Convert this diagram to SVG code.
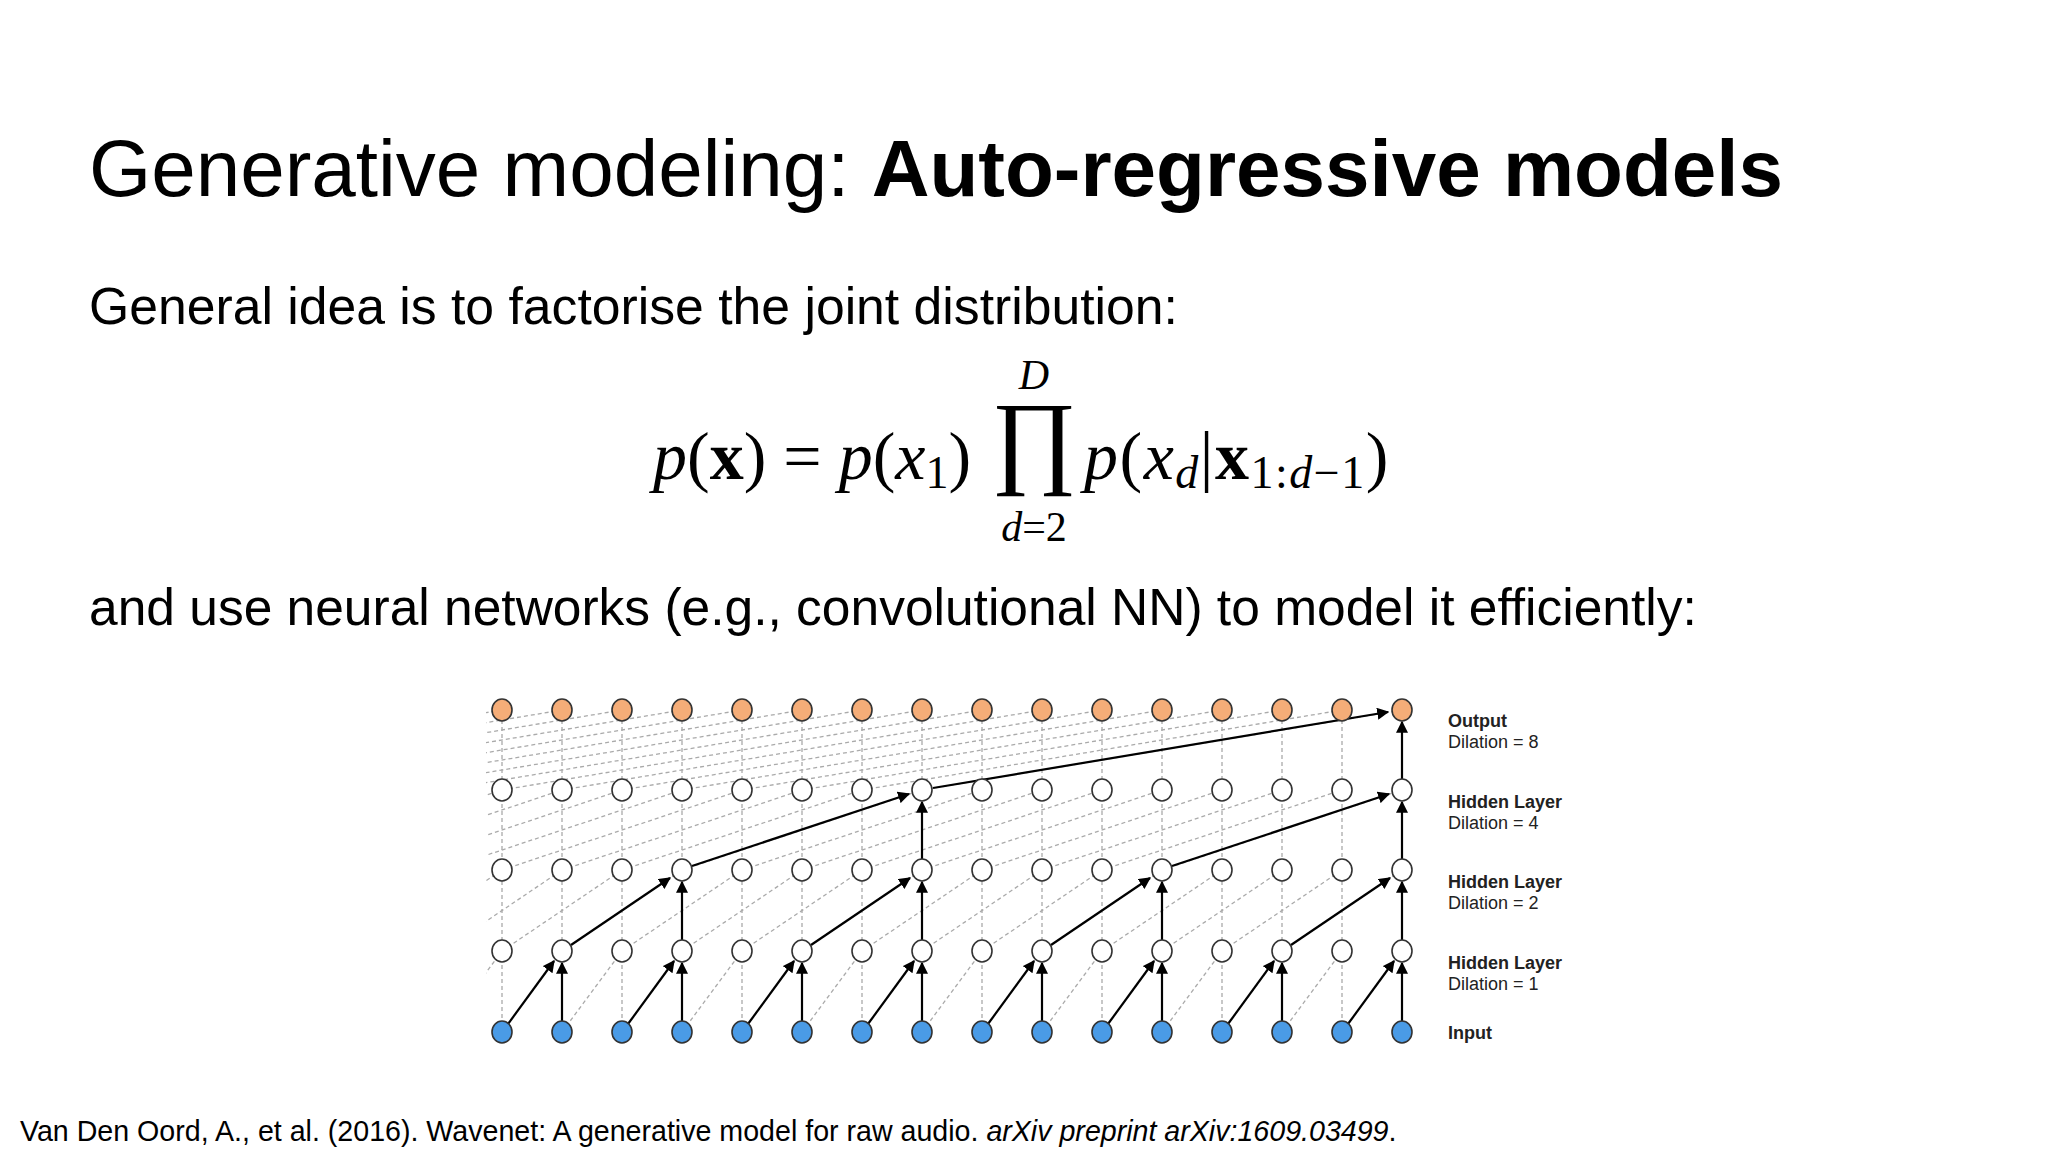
<svg xmlns="http://www.w3.org/2000/svg" width="2048" height="1152" viewBox="0 0 2048 1152">
<style>
.t{font-family:"Liberation Sans",Arial,sans-serif;fill:#000}
.m{font-family:"Liberation Serif","DejaVu Serif",serif;fill:#000}
.o{fill:#f5ad78;stroke:#333;stroke-width:1.6}
.h{fill:#fff;stroke:#333;stroke-width:1.6}
.i{fill:#4a9be6;stroke:#333;stroke-width:1.6}
.d{fill:none;stroke:#aaa;stroke-width:1.3;stroke-dasharray:4 3}
.a{fill:none;stroke:#000;stroke-width:2.2;marker-end:url(#ah)}
.lb{font-family:"Liberation Sans",Arial,sans-serif;font-size:18px;fill:#222}
</style>
<defs>
<marker id="ah" viewBox="0 0 10 10" refX="9" refY="5" markerWidth="12" markerHeight="12" markerUnits="userSpaceOnUse" orient="auto"><path d="M0,0 L10,5 L0,10 z" fill="#000"/></marker>
<clipPath id="cp"><rect x="486" y="700" width="936" height="345"/></clipPath>
</defs>
<rect width="2048" height="1152" fill="#fff"/>
<text class="t" x="89" y="196" font-size="80">Generative modeling: <tspan font-weight="bold">Auto-regressive models</tspan></text>
<text class="t" x="89" y="324" font-size="51.7">General idea is to factorise the joint distribution:</text>
<text class="t" x="89" y="625" font-size="51.5">and use neural networks (e.g., convolutional NN) to model it efficiently:</text>
<text class="t" x="20" y="1141" font-size="28.6">Van Den Oord, A., et al. (2016). Wavenet: A generative model for raw audio. <tspan font-style="italic">arXiv preprint arXiv:1609.03499</tspan>.</text>
<g id="equation">
<text class="m" x="653" y="479" font-size="68"><tspan font-style="italic">p</tspan>(<tspan font-weight="bold">x</tspan>) = <tspan font-style="italic">p</tspan>(<tspan font-style="italic">x</tspan><tspan font-size="46" dy="9">1</tspan><tspan dy="-9">)</tspan></text>
<text class="m" x="1034" y="474" font-size="104" text-anchor="middle">∏</text>
<text class="m" x="1034" y="389" font-size="42" text-anchor="middle" font-style="italic">D</text>
<text class="m" x="1034" y="541" font-size="42" text-anchor="middle"><tspan font-style="italic">d</tspan>=2</text>
<text class="m" x="1084" y="479" font-size="68" letter-spacing="1.5"><tspan font-style="italic">p</tspan>(<tspan font-style="italic">x</tspan><tspan font-size="46" dy="9" font-style="italic">d</tspan><tspan dy="-9">|</tspan><tspan font-weight="bold">x</tspan><tspan font-size="46" dy="9">1:<tspan font-style="italic">d</tspan>−1</tspan><tspan dy="-9">)</tspan></text>
</g>
<g id="connectors">
<g clip-path="url(#cp)">
<path class="d" d="M502,1032V710 M562,1032V710 M622,1032V710 M682,1032V710 M742,1032V710 M802,1032V710 M862,1032V710 M922,1032V710 M982,1032V710 M1042,1032V710 M1102,1032V710 M1162,1032V710 M1222,1032V710 M1282,1032V710 M1342,1032V710 M1402,1032V710"/>
<path class="d" d="M442,1032L502,951 M502,1032L562,951 M562,1032L622,951 M622,1032L682,951 M682,1032L742,951 M742,1032L802,951 M802,1032L862,951 M862,1032L922,951 M922,1032L982,951 M982,1032L1042,951 M1042,1032L1102,951 M1102,1032L1162,951 M1162,1032L1222,951 M1222,1032L1282,951 M1282,1032L1342,951 M1342,1032L1402,951"/>
<path class="d" d="M382,951L502,870 M442,951L562,870 M502,951L622,870 M562,951L682,870 M622,951L742,870 M682,951L802,870 M742,951L862,870 M802,951L922,870 M862,951L982,870 M922,951L1042,870 M982,951L1102,870 M1042,951L1162,870 M1102,951L1222,870 M1162,951L1282,870 M1222,951L1342,870 M1282,951L1402,870"/>
<path class="d" d="M262,870L502,790 M322,870L562,790 M382,870L622,790 M442,870L682,790 M502,870L742,790 M562,870L802,790 M622,870L862,790 M682,870L922,790 M742,870L982,790 M802,870L1042,790 M862,870L1102,790 M922,870L1162,790 M982,870L1222,790 M1042,870L1282,790 M1102,870L1342,790 M1162,870L1402,790"/>
<path class="d" d="M22,790L502,710 M82,790L562,710 M142,790L622,710 M202,790L682,710 M262,790L742,710 M322,790L802,710 M382,790L862,710 M442,790L922,710 M502,790L982,710 M562,790L1042,710 M622,790L1102,710 M682,790L1162,710 M742,790L1222,710 M802,790L1282,710 M862,790L1342,710 M922,790L1402,710"/>
</g>
<path class="a" d="M508,1024L554,961"/><path class="a" d="M628,1024L674,961"/><path class="a" d="M748,1024L794,961"/><path class="a" d="M868,1024L914,961"/><path class="a" d="M988,1024L1034,961"/><path class="a" d="M1108,1024L1154,961"/><path class="a" d="M1228,1024L1274,961"/><path class="a" d="M1348,1024L1394,961"/>
<path class="a" d="M562,1021V963"/><path class="a" d="M682,1021V963"/><path class="a" d="M802,1021V963"/><path class="a" d="M922,1021V963"/><path class="a" d="M1042,1021V963"/><path class="a" d="M1162,1021V963"/><path class="a" d="M1282,1021V963"/><path class="a" d="M1402,1021V963"/>
<path class="a" d="M571,945L670,878"/><path class="a" d="M811,945L910,878"/><path class="a" d="M1051,945L1150,878"/><path class="a" d="M1291,945L1390,878"/>
<path class="a" d="M682,940V882"/><path class="a" d="M922,940V882"/><path class="a" d="M1162,940V882"/><path class="a" d="M1402,940V882"/>
<path class="a" d="M692,866L909,794"/><path class="a" d="M1172,866L1389,794"/>
<path class="a" d="M922,859V802"/><path class="a" d="M1402,859V802"/>
<path class="a" d="M933,788L1388,712"/>
<path class="a" d="M1402,779V722"/>
</g>
<g id="n-out0"><ellipse class="o" cx="502" cy="710" rx="10" ry="11"/></g><g id="n-out1"><ellipse class="o" cx="562" cy="710" rx="10" ry="11"/></g><g id="n-out2"><ellipse class="o" cx="622" cy="710" rx="10" ry="11"/></g><g id="n-out3"><ellipse class="o" cx="682" cy="710" rx="10" ry="11"/></g><g id="n-out4"><ellipse class="o" cx="742" cy="710" rx="10" ry="11"/></g><g id="n-out5"><ellipse class="o" cx="802" cy="710" rx="10" ry="11"/></g><g id="n-out6"><ellipse class="o" cx="862" cy="710" rx="10" ry="11"/></g><g id="n-out7"><ellipse class="o" cx="922" cy="710" rx="10" ry="11"/></g><g id="n-out8"><ellipse class="o" cx="982" cy="710" rx="10" ry="11"/></g><g id="n-out9"><ellipse class="o" cx="1042" cy="710" rx="10" ry="11"/></g><g id="n-out10"><ellipse class="o" cx="1102" cy="710" rx="10" ry="11"/></g><g id="n-out11"><ellipse class="o" cx="1162" cy="710" rx="10" ry="11"/></g><g id="n-out12"><ellipse class="o" cx="1222" cy="710" rx="10" ry="11"/></g><g id="n-out13"><ellipse class="o" cx="1282" cy="710" rx="10" ry="11"/></g><g id="n-out14"><ellipse class="o" cx="1342" cy="710" rx="10" ry="11"/></g><g id="n-out15"><ellipse class="o" cx="1402" cy="710" rx="10" ry="11"/></g>
<g id="n-h4-0"><ellipse class="h" cx="502" cy="790" rx="10" ry="11"/></g><g id="n-h4-1"><ellipse class="h" cx="562" cy="790" rx="10" ry="11"/></g><g id="n-h4-2"><ellipse class="h" cx="622" cy="790" rx="10" ry="11"/></g><g id="n-h4-3"><ellipse class="h" cx="682" cy="790" rx="10" ry="11"/></g><g id="n-h4-4"><ellipse class="h" cx="742" cy="790" rx="10" ry="11"/></g><g id="n-h4-5"><ellipse class="h" cx="802" cy="790" rx="10" ry="11"/></g><g id="n-h4-6"><ellipse class="h" cx="862" cy="790" rx="10" ry="11"/></g><g id="n-h4-7"><ellipse class="h" cx="922" cy="790" rx="10" ry="11"/></g><g id="n-h4-8"><ellipse class="h" cx="982" cy="790" rx="10" ry="11"/></g><g id="n-h4-9"><ellipse class="h" cx="1042" cy="790" rx="10" ry="11"/></g><g id="n-h4-10"><ellipse class="h" cx="1102" cy="790" rx="10" ry="11"/></g><g id="n-h4-11"><ellipse class="h" cx="1162" cy="790" rx="10" ry="11"/></g><g id="n-h4-12"><ellipse class="h" cx="1222" cy="790" rx="10" ry="11"/></g><g id="n-h4-13"><ellipse class="h" cx="1282" cy="790" rx="10" ry="11"/></g><g id="n-h4-14"><ellipse class="h" cx="1342" cy="790" rx="10" ry="11"/></g><g id="n-h4-15"><ellipse class="h" cx="1402" cy="790" rx="10" ry="11"/></g>
<g id="n-h2-0"><ellipse class="h" cx="502" cy="870" rx="10" ry="11"/></g><g id="n-h2-1"><ellipse class="h" cx="562" cy="870" rx="10" ry="11"/></g><g id="n-h2-2"><ellipse class="h" cx="622" cy="870" rx="10" ry="11"/></g><g id="n-h2-3"><ellipse class="h" cx="682" cy="870" rx="10" ry="11"/></g><g id="n-h2-4"><ellipse class="h" cx="742" cy="870" rx="10" ry="11"/></g><g id="n-h2-5"><ellipse class="h" cx="802" cy="870" rx="10" ry="11"/></g><g id="n-h2-6"><ellipse class="h" cx="862" cy="870" rx="10" ry="11"/></g><g id="n-h2-7"><ellipse class="h" cx="922" cy="870" rx="10" ry="11"/></g><g id="n-h2-8"><ellipse class="h" cx="982" cy="870" rx="10" ry="11"/></g><g id="n-h2-9"><ellipse class="h" cx="1042" cy="870" rx="10" ry="11"/></g><g id="n-h2-10"><ellipse class="h" cx="1102" cy="870" rx="10" ry="11"/></g><g id="n-h2-11"><ellipse class="h" cx="1162" cy="870" rx="10" ry="11"/></g><g id="n-h2-12"><ellipse class="h" cx="1222" cy="870" rx="10" ry="11"/></g><g id="n-h2-13"><ellipse class="h" cx="1282" cy="870" rx="10" ry="11"/></g><g id="n-h2-14"><ellipse class="h" cx="1342" cy="870" rx="10" ry="11"/></g><g id="n-h2-15"><ellipse class="h" cx="1402" cy="870" rx="10" ry="11"/></g>
<g id="n-h1-0"><ellipse class="h" cx="502" cy="951" rx="10" ry="11"/></g><g id="n-h1-1"><ellipse class="h" cx="562" cy="951" rx="10" ry="11"/></g><g id="n-h1-2"><ellipse class="h" cx="622" cy="951" rx="10" ry="11"/></g><g id="n-h1-3"><ellipse class="h" cx="682" cy="951" rx="10" ry="11"/></g><g id="n-h1-4"><ellipse class="h" cx="742" cy="951" rx="10" ry="11"/></g><g id="n-h1-5"><ellipse class="h" cx="802" cy="951" rx="10" ry="11"/></g><g id="n-h1-6"><ellipse class="h" cx="862" cy="951" rx="10" ry="11"/></g><g id="n-h1-7"><ellipse class="h" cx="922" cy="951" rx="10" ry="11"/></g><g id="n-h1-8"><ellipse class="h" cx="982" cy="951" rx="10" ry="11"/></g><g id="n-h1-9"><ellipse class="h" cx="1042" cy="951" rx="10" ry="11"/></g><g id="n-h1-10"><ellipse class="h" cx="1102" cy="951" rx="10" ry="11"/></g><g id="n-h1-11"><ellipse class="h" cx="1162" cy="951" rx="10" ry="11"/></g><g id="n-h1-12"><ellipse class="h" cx="1222" cy="951" rx="10" ry="11"/></g><g id="n-h1-13"><ellipse class="h" cx="1282" cy="951" rx="10" ry="11"/></g><g id="n-h1-14"><ellipse class="h" cx="1342" cy="951" rx="10" ry="11"/></g><g id="n-h1-15"><ellipse class="h" cx="1402" cy="951" rx="10" ry="11"/></g>
<g id="n-in0"><ellipse class="i" cx="502" cy="1032" rx="10" ry="11"/></g><g id="n-in1"><ellipse class="i" cx="562" cy="1032" rx="10" ry="11"/></g><g id="n-in2"><ellipse class="i" cx="622" cy="1032" rx="10" ry="11"/></g><g id="n-in3"><ellipse class="i" cx="682" cy="1032" rx="10" ry="11"/></g><g id="n-in4"><ellipse class="i" cx="742" cy="1032" rx="10" ry="11"/></g><g id="n-in5"><ellipse class="i" cx="802" cy="1032" rx="10" ry="11"/></g><g id="n-in6"><ellipse class="i" cx="862" cy="1032" rx="10" ry="11"/></g><g id="n-in7"><ellipse class="i" cx="922" cy="1032" rx="10" ry="11"/></g><g id="n-in8"><ellipse class="i" cx="982" cy="1032" rx="10" ry="11"/></g><g id="n-in9"><ellipse class="i" cx="1042" cy="1032" rx="10" ry="11"/></g><g id="n-in10"><ellipse class="i" cx="1102" cy="1032" rx="10" ry="11"/></g><g id="n-in11"><ellipse class="i" cx="1162" cy="1032" rx="10" ry="11"/></g><g id="n-in12"><ellipse class="i" cx="1222" cy="1032" rx="10" ry="11"/></g><g id="n-in13"><ellipse class="i" cx="1282" cy="1032" rx="10" ry="11"/></g><g id="n-in14"><ellipse class="i" cx="1342" cy="1032" rx="10" ry="11"/></g><g id="n-in15"><ellipse class="i" cx="1402" cy="1032" rx="10" ry="11"/></g>
<g id="labels">
<text class="lb" x="1448" y="727" font-weight="bold">Output</text><text class="lb" x="1448" y="748">Dilation = 8</text>
<text class="lb" x="1448" y="808" font-weight="bold">Hidden Layer</text><text class="lb" x="1448" y="829">Dilation = 4</text>
<text class="lb" x="1448" y="888" font-weight="bold">Hidden Layer</text><text class="lb" x="1448" y="909">Dilation = 2</text>
<text class="lb" x="1448" y="969" font-weight="bold">Hidden Layer</text><text class="lb" x="1448" y="990">Dilation = 1</text>
<text class="lb" x="1448" y="1039" font-weight="bold">Input</text>
</g>
</svg>
